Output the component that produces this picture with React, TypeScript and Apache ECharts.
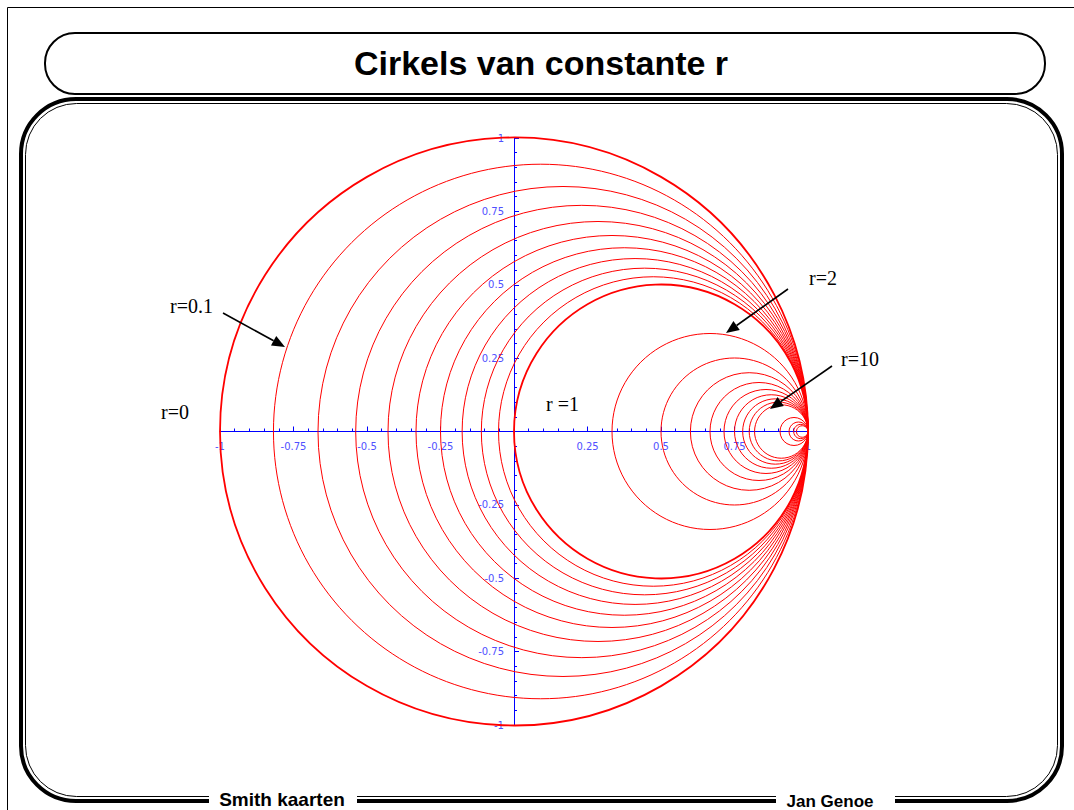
import React, { useEffect, useRef } from "react";
import * as echarts from "echarts";

// r values of the constant-resistance circles
const rValues: number[] = [0, 0.1, 0.2, 0.3, 0.4, 0.5, 0.6, 0.7, 0.8, 0.9, 1, 2, 3, 4, 5, 6, 7, 8, 9, 10, 20, 30, 40, 50];
const boldR: number[] = [0, 1];
const axisMin = -1;
const axisMax = 1;
const axisStep = 0.25;

const title = "Cirkels van constante r";
const footerLeft = "Smith kaarten";
const footerRight = "Jan Genoe";

const annotations = [
  { text: "r=0.1", x: 170, y: 306 },
  { text: "r=0", x: 161, y: 412 },
  { text: "r =1", x: 546, y: 404 },
  { text: "r=2", x: 809, y: 278 },
  { text: "r=10", x: 841, y: 359 },
];
const arrows = [
  { from: [223, 313], to: [285, 347] },
  { from: [788, 289], to: [726, 333] },
  { from: [832, 366], to: [770, 409] },
];

const GRID = { left: 220, right: 266, top: 138, bottom: 85 };

function arrowGraphics(a: { from: number[]; to: number[] }) {
  const [x1, y1] = a.from;
  const [x2, y2] = a.to;
  const dx = x2 - x1, dy = y2 - y1;
  const len = Math.hypot(dx, dy);
  const ux = dx / len, uy = dy / len;
  const hl = 13, hw = 5.5;
  const bx = x2 - ux * hl, by = y2 - uy * hl;
  return [
    { type: "line", shape: { x1, y1, x2: bx, y2: by }, style: { stroke: "#000", lineWidth: 1.6 }, z: 10 },
    {
      type: "polygon",
      shape: { points: [[x2, y2], [bx - uy * hw, by + ux * hw], [bx + uy * hw, by - ux * hw]] },
      style: { fill: "#000" },
      z: 10,
    },
  ];
}

export default function App() {
  const ref = useRef<HTMLDivElement>(null);
  useEffect(() => {
    if (!ref.current) return;
    const chart = echarts.init(ref.current, null, { renderer: "svg" });
    const blue = "#0000ff";
    const labelColor = "#5050ff";
    const fmt = (v: number) => (Math.abs(v) < 1e-9 ? "" : String(v));
    const W = 1074, H = 810;
    const gw = W - GRID.left - GRID.right;
    const gh = H - GRID.top - GRID.bottom;
    const graphics: any[] = [
      // page border
      { type: "rect", shape: { x: 7.5, y: 7.5, width: 1200, height: 1000 }, style: { fill: "none", stroke: "#000", lineWidth: 1 }, z: 0, silent: true },
      // main frame
      { type: "rect", shape: { x: 21, y: 99, width: 1041, height: 702, r: 55 }, style: { fill: "none", stroke: "#000", lineWidth: 4 }, z: 1 },
      { type: "rect", shape: { x: 25.5, y: 103.5, width: 1032, height: 693, r: 51 }, style: { fill: "none", stroke: "#000", lineWidth: 1 }, z: 1 },
      // title pill
      { type: "rect", shape: { x: 45, y: 33, width: 1000, height: 61, r: 30 }, style: { fill: "#fff", stroke: "#000", lineWidth: 2 }, z: 2 },
      {
        type: "text", x: 541, y: 63,
        style: { text: title, font: "bold 34px 'Liberation Sans', Arial, sans-serif", fill: "#000", textAlign: "center", textVerticalAlign: "middle" },
        z: 3,
      },
      // footer gaps
      { type: "rect", shape: { x: 209, y: 789, width: 148, height: 20 }, style: { fill: "#fff" }, z: 4 },
      { type: "rect", shape: { x: 776, y: 789, width: 119, height: 20 }, style: { fill: "#fff" }, z: 4 },
      {
        type: "text", x: 282, y: 799,
        style: { text: footerLeft, font: "bold 19px 'Liberation Sans', Arial, sans-serif", fill: "#000", textAlign: "center", textVerticalAlign: "middle" },
        z: 5,
      },
      {
        type: "text", x: 830, y: 801,
        style: { text: footerRight, font: "bold 17px 'Liberation Sans', Arial, sans-serif", fill: "#000", textAlign: "center", textVerticalAlign: "middle" },
        z: 5,
      },
    ];
    annotations.forEach((a) => {
      graphics.push({
        type: "text", x: a.x, y: a.y,
        style: { text: a.text, font: "20px 'Liberation Serif', 'Times New Roman', serif", fill: "#000", textAlign: "left", textVerticalAlign: "middle" },
        z: 10,
      });
    });
    arrows.forEach((a) => graphics.push(...arrowGraphics(a)));

    const axisCommon = {
      type: "value",
      min: axisMin,
      max: axisMax,
      interval: axisStep,
      axisLine: { show: true, onZero: false, lineStyle: { color: blue, width: 1 } },
      axisTick: { show: true, inside: true, length: 5, lineStyle: { color: blue, width: 1 } },
      minorTick: { show: true, splitNumber: 5, length: 3, lineStyle: { color: blue, width: 1 } },
      splitLine: { show: false },
      minorSplitLine: { show: false },
      axisLabel: { formatter: fmt, color: labelColor, fontSize: 10, fontFamily: "'DejaVu Sans', Verdana, sans-serif", margin: 10 },
    };

    chart.setOption({
      animation: false,
      grid: { ...GRID, containLabel: false },
      xAxis: { ...axisCommon, position: "bottom", offset: -gh / 2 },
      yAxis: { ...axisCommon, position: "left", offset: -gw / 2 },
      graphic: graphics,
      series: [
        {
          type: "custom",
          coordinateSystem: "cartesian2d",
          data: rValues.map((r) => [r, 0]),
          z: 5,
          renderItem: (_p: any, api: any) => {
            const r = api.value(0) as number;
            const c = api.coord([r / (1 + r), 0]);
            const rad = api.size([1 / (1 + r), 0])[0];
            return {
              type: "circle",
              shape: { cx: c[0], cy: c[1], r: rad },
              style: { fill: "none", stroke: "#ff0000", lineWidth: boldR.includes(r) ? 1.8 : 1 },
            };
          },
        },
      ],
    });
    return () => chart.dispose();
  }, []);
  return <div ref={ref} style={{ position: "absolute", left: 0, top: 0, width: 1074, height: 810 }} />;
}
